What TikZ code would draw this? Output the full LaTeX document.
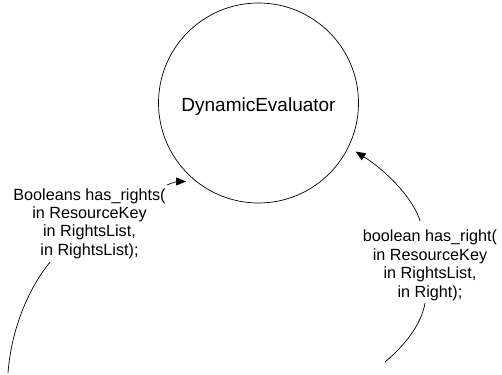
\documentclass[tikz,border=0pt]{standalone}
\usepackage{fontspec}
\setmainfont{Liberation Sans}
\usetikzlibrary{arrows.meta,calc}
\begin{document}
\begin{tikzpicture}[x=1pt,y=-1pt,
  proc/.style={draw, circle, minimum size=200pt, inner sep=0pt, line width=0.7pt,
    text height=19.4pt, text depth=2pt, font=\fontsize{19}{22}\selectfont},
  lbl/.style={align=center, inner sep=0pt, font=\fontsize{16.2}{18.4}\selectfont},
  conn/.style={line width=0.7pt},
  arr/.style={conn, -{Triangle[length=10pt,width=8pt]}}
]
\useasboundingbox (0,0) rectangle (502,374);
\node[proc] (ev) at (258.5,103) {DynamicEvaluator};
\node[lbl] (lab1) at (89.5,223.5) {Booleans has\_rights(\\in ResourceKey\\in RightsList,\\in RightsList);};
\node[lbl] (lab2) at (430,265.3) {boolean has\_right(\\in ResourceKey\\in RightsList,\\in Right);};
\coordinate (f1) at (8,373);
\coordinate (f2) at (385,362);
\coordinate (t1) at ($(ev.center)+(-72.5,78.5)$);
\coordinate (t2) at ($(ev.center)+(97,48.5)$);
% left connector
\draw[conn] (f1) .. controls (12,320) and (35,280) .. ([shift={(-39.5,3.3)}]lab1.south);
\draw[arr] ([shift={(1,-3)}]lab1.north east) .. controls (173,182) and (179,181.5) .. (t1);
% right connector
\draw[conn] (f2) .. controls (405,345) and (421,325) .. ([shift={(-5,2.6)}]lab2.south);
\draw[arr] ([shift={(-10,-9)}]lab2.north) .. controls (414,200) and (388,172) .. (t2);
\end{tikzpicture}
\end{document}
